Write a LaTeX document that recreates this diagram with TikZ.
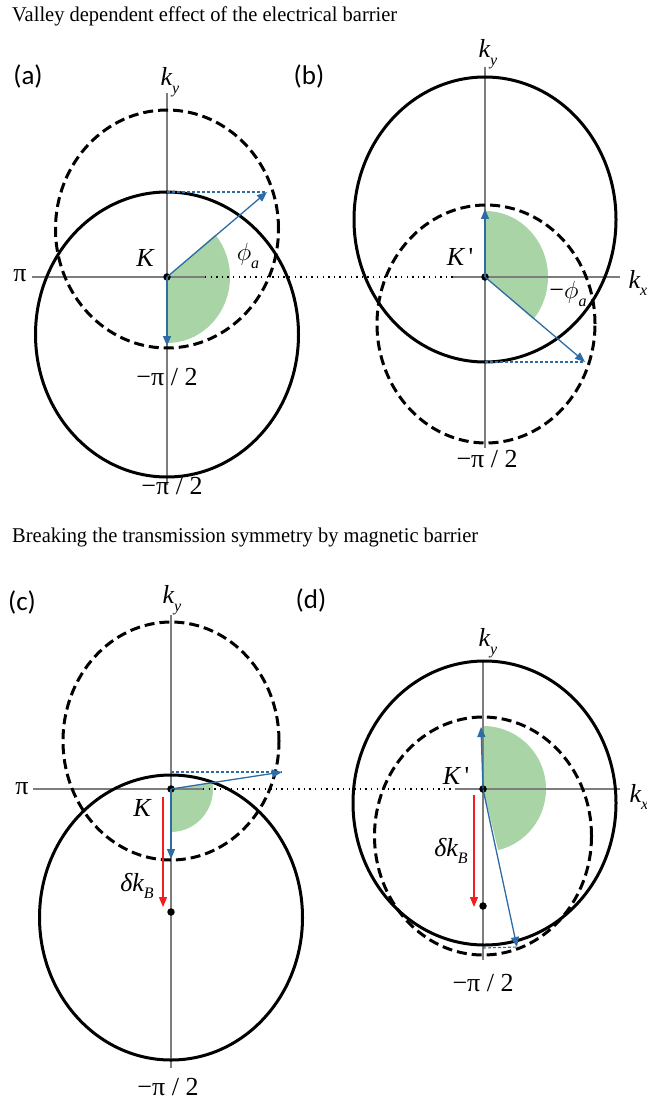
\documentclass[tikz,border=0pt]{standalone}
\usepackage{fontspec}
\usepackage{graphicx}
\setmainfont{Liberation Serif}
\newfontfamily\labfont{Carlito}
\usetikzlibrary{arrows.meta}
\definecolor{arrblue}{RGB}{46,108,166}
\definecolor{secgreen}{RGB}{168,212,166}
\definecolor{axgray}{RGB}{125,125,125}
\definecolor{kred}{RGB}{240,30,30}
\newcommand\lsub[1]{\raisebox{-7.5pt}{\fontsize{16}{16}\selectfont\itshape #1}}
\newcommand\kprime{{\itshape K}\,{\upshape\textquotesingle}}
\begin{document}
\begin{tikzpicture}[x=1pt,y=-1pt,
  ax/.style={axgray, line width=1.1pt},
  dotline/.style={black, line width=1.4pt, dash pattern=on 1.4pt off 4.2pt},
  solidc/.style={black, line width=3pt},
  dashc/.style={black, line width=3pt, dash pattern=on 10pt off 5pt},
  barr/.style={arrblue, line width=1.3pt, -{Triangle[length=10pt,width=8pt]}, shorten <=-3.5pt},
  bdash/.style={arrblue, line width=1.1pt, dash pattern=on 3pt off 2pt},
  rarr/.style={kred, line width=1.3pt, -{Triangle[length=10pt,width=8pt]}},
  sector/.style={fill=secgreen},
  dotk/.style={circle, fill=black, inner sep=0pt, minimum size=7.5pt},
  plabel/.style={font=\labfont\fontsize{27}{27}\selectfont, inner sep=0pt},
  mlab/.style={font=\fontsize{26}{26}\selectfont\itshape, inner sep=0pt},
  plab/.style={font=\fontsize{26}{26}\selectfont, inner sep=0pt},
  titlestyle/.style={font=\fontsize{21}{24}\selectfont, anchor=west, inner sep=0pt}
]
\useasboundingbox (0,0) rectangle (647,1099);

% titles
\node[titlestyle] (t1) at (12,16) {\resizebox{385pt}{\height}{Valley dependent effect of the electrical barrier}};
\node[titlestyle] (t2) at (12,537) {\resizebox{466pt}{\height}{Breaking the transmission symmetry by magnetic barrier}};

% ---------------- panel (a) ----------------
\fill[sector] (167,277) -- ++(0,66) arc[start angle=-90, end angle=40, x radius=63pt, y radius=66pt] -- cycle;
\coordinate (aT) at (167,93); \coordinate (aB) at (167,485);
\coordinate (aL) at (32,277); \coordinate (aR) at (205,277);
\coordinate (abL) at (205,277); \coordinate (abR) at (453,277);
\draw[ax] (aT) -- (aB);
\draw[ax] (aL) -- (aR);
\draw[dotline] (abL) -- (abR);
\draw[solidc] (167,334.5) ellipse[x radius=131.5pt, y radius=142.5pt];
\draw[dashc] (167,229) ellipse[x radius=111.5pt, y radius=119pt];
\node[dotk] (Ka) at (167,277) {};
\coordinate (aTip) at (267,192);
\coordinate (aQ) at (167,192);
\coordinate (aDown) at (167,346);
\draw[bdash] (aQ) -- (aTip);
\draw[barr] (Ka) -- (aTip);
\draw[barr] (Ka) -- (aDown);
\node[plabel] (la) at (28,77) {(a)};
\node[mlab] (kya) at (170,82) {k\lsub{y}};
\node[plab] (pia) at (20,276) {π};
\node[mlab] (Kla) at (145,258) {K};
\node[font=\fontsize{26}{26}\selectfont, inner sep=0pt] (phia) at (248,256) {$\phi$\lsub{a}};
\node[plab] (ma1) at (167,377) {−π / 2};
\node[plab] (ma2) at (172,486) {−π / 2};

% ---------------- panel (b) ----------------
\fill[sector] (485,277) -- ++(0,-66) arc[start angle=90, end angle=-40, x radius=63pt, y radius=66pt] -- cycle;
\coordinate (bT) at (485,67); \coordinate (bB) at (485,448);
\coordinate (bL) at (453,277); \coordinate (bR) at (620,277);
\draw[ax] (bT) -- (bB);
\draw[ax] (bL) -- (bR);
\draw[solidc] (485,219.5) ellipse[x radius=131pt, y radius=142.5pt];
\draw[dashc] (486,324) ellipse[x radius=109pt, y radius=119pt];
\node[dotk] (Kb) at (485,277) {};
\coordinate (bTip) at (585,362);
\coordinate (bQ) at (485,362);
\coordinate (bUp) at (485,209);
\draw[bdash] (bQ) -- (bTip);
\draw[barr] (Kb) -- (bTip);
\draw[barr] (Kb) -- (bUp);
\node[plabel] (lb) at (309,76) {(b)};
\node[mlab] (kyb) at (488,54) {k\lsub{y}};
\node[mlab] (kxb) at (638,283) {k\lsub{x}};
\node[font=\fontsize{26}{26}\selectfont, inner sep=0pt] (Klb) at (460,257) {\kprime};
\node[font=\fontsize{26}{26}\selectfont, inner sep=0pt] (phib) at (568,294) {−$\phi$\lsub{a}};
\node[plab] (mb1) at (487,459) {−π / 2};

% ---------------- panel (c) ----------------
\fill[sector] (171,789) -- ++(0,43) arc[start angle=-90, end angle=9, x radius=42pt, y radius=43pt] -- cycle;
\coordinate (cT) at (171,615); \coordinate (cB) at (171,1068);
\coordinate (cL) at (33,789); \coordinate (cR) at (203,789);
\coordinate (cdL) at (203,789); \coordinate (cdR) at (455,789);
\draw[ax] (cT) -- (cB);
\draw[ax] (cL) -- (cR);
\draw[dotline] (cdL) -- (cdR);
\draw[solidc] (171,917.5) ellipse[x radius=131.5pt, y radius=142.5pt];
\draw[dashc] (171,741) ellipse[x radius=108pt, y radius=119pt];
\node[dotk] (Kc) at (171,789) {};
\node[dotk] (Cc) at (171,912) {};
\coordinate (cTip) at (282,772);
\coordinate (cQ) at (171,772);
\coordinate (cDown) at (171,859);
\coordinate (crS) at (163,797);
\coordinate (crE) at (163,907);
\draw[bdash] (cQ) -- (cTip);
\draw[barr] (Kc) -- (cTip);
\draw[barr] (Kc) -- (cDown);
\draw[rarr] (crS) -- (crE);
\node[plabel] (lc) at (22,602) {(c)};
\node[mlab] (kyc) at (172,600) {k\lsub{y}};
\node[plab] (pic) at (22,789) {π};
\node[mlab] (Klc) at (142,808) {K};
\node[mlab] (dkc) at (137,886) {δk\lsub{B}};
\node[plab] (mc1) at (168,1087) {−π / 2};

% ---------------- panel (d) ----------------
\fill[sector] (483,789) -- ++(0,-63) arc[start angle=90, end angle=-76, radius=63pt] -- cycle;
\coordinate (dT) at (483,660); \coordinate (dB) at (483,960);
\coordinate (dL) at (455,789); \coordinate (dR) at (620,789);
\draw[ax] (dT) -- (dB);
\draw[ax] (dL) -- (dR);
\draw[solidc] (484.5,803) ellipse[x radius=131.5pt, y radius=142pt];
\draw[dashc] (483,836) ellipse[x radius=108.5pt, y radius=119pt];
\node[dotk] (Kd) at (483,789) {};
\node[dotk] (Cd) at (483,906) {};
\coordinate (dTip) at (517,947);
\coordinate (dQ) at (483,948);
\coordinate (dUp) at (481,727);
\coordinate (drS) at (474,795);
\coordinate (drE) at (474,907);
\draw[bdash] (dQ) -- (dTip);
\draw[barr] (Kd) -- (dTip);
\draw[barr] (Kd) -- (dUp);
\draw[rarr] (drS) -- (drE);
\node[plabel] (ld) at (311,600) {(d)};
\node[mlab] (kyd) at (488,643) {k\lsub{y}};
\node[mlab] (kxd) at (639,797) {k\lsub{x}};
\node[font=\fontsize{26}{26}\selectfont, inner sep=0pt] (Kld) at (456,776) {\kprime};
\node[mlab] (dkd) at (451,851) {δk\lsub{B}};
\node[plab] (md1) at (483,983) {−π / 2};
\end{tikzpicture}
\end{document}
